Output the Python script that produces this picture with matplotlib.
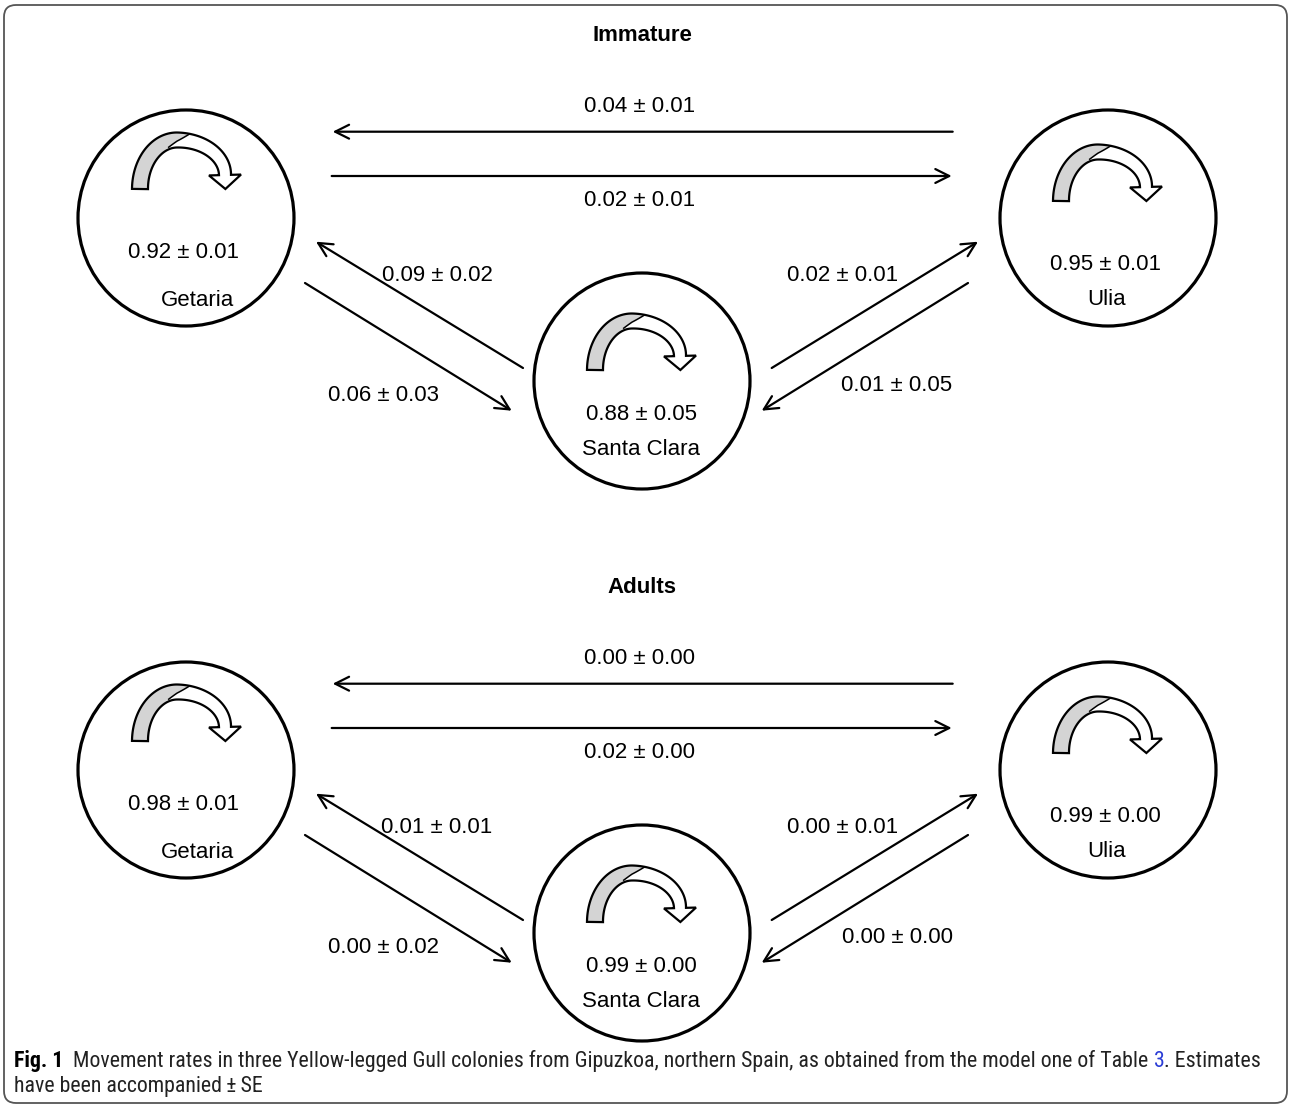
import numpy as np
import matplotlib
matplotlib.use('Agg')
import matplotlib.pyplot as plt
from matplotlib.patches import Circle, Polygon, FancyArrowPatch, FancyBboxPatch
from matplotlib import font_manager
from matplotlib.font_manager import FontProperties

# ---------------- data ----------------
panels = ['Immature', 'Adults']
colonies = ['Getaria', 'Santa Clara', 'Ulia']
# residency (stay) probabilities and SE, order = colonies
imm_stay = [0.92, 0.88, 0.95]
imm_stay_se = [0.01, 0.05, 0.01]
adu_stay = [0.98, 0.99, 0.99]
adu_stay_se = [0.01, 0.00, 0.00]
# movements: U->G, G->U, SC->G, G->SC, SC->U, U->SC
moves = [('Ulia', 'Getaria'), ('Getaria', 'Ulia'), ('Santa Clara', 'Getaria'),
         ('Getaria', 'Santa Clara'), ('Santa Clara', 'Ulia'), ('Ulia', 'Santa Clara')]
imm_move = [0.04, 0.02, 0.09, 0.06, 0.02, 0.01]
imm_move_se = [0.01, 0.01, 0.02, 0.03, 0.01, 0.05]
adu_move = [0.00, 0.02, 0.01, 0.00, 0.00, 0.00]
adu_move_se = [0.00, 0.00, 0.01, 0.02, 0.01, 0.00]

caption_bold = 'Fig. 1'
caption_a = ('  Movement rates in three Yellow-legged Gull colonies from Gipuzkoa, '
             'northern Spain, as obtained from the model one of Table ')
caption_link = '3'
caption_b = '. Estimates'
caption_2 = 'have been accompanied\u2009±\u2009SE'

# ---------------- layout (pixel units) ----------------
W, H = 1290, 1108
fig = plt.figure(figsize=(W / 100, H / 100), dpi=100)
ax = fig.add_axes([0, 0, 1, 1])
ax.set_xlim(0, W)
ax.set_ylim(H, 0)
ax.axis('off')

FONT = ['Liberation Sans', 'DejaVu Sans']
FS = 16
panel_dy = [0, 552]
title_y = 33
circ = {'Getaria': (186, 218), 'Santa Clara': (642, 381), 'Ulia': (1108, 218)}
R = 108
val_pos = {'Getaria': (183, 250), 'Santa Clara': (641, 412), 'Ulia': (1105, 262)}
name_pos = {'Getaria': (197, 298), 'Santa Clara': (641, 447), 'Ulia': (1107, 297)}
self_anchor = {'Getaria': (175, 189), 'Santa Clara': (630, 370), 'Ulia': (1096, 201)}
move_geom = [((952.7, 131.7), (332.7, 131.7), (640, 104)),
             ((331.7, 176), (951.7, 176), (640, 198)),
             ((523, 368), (316, 241.7), (437, 273)),
             ((305, 283), (511.7, 410.7), (383, 393)),
             ((771.7, 368), (978, 241.7), (843, 273)),
             ((968, 283), (761.7, 410.7), (897, 383))]
CAP = 8  # half cap height in px, to place baselines


def fmt(v, s):
    return f'{v:.2f} ± {s:.2f}'


def band_geometry(x0, by):
    pts, ws = [], []
    for th in np.linspace(np.pi, np.pi / 2, 40):
        pts.append((x0 + 37 * np.cos(th), by - 49 * np.sin(th)))
        ws.append(8 - (np.pi - th) / (np.pi / 2) * 0.5)
    for th in np.linspace(np.pi / 2, 0, 40)[1:]:
        pts.append((x0 + 48 * np.cos(th), (by - 14) - 35 * np.sin(th)))
        ws.append(7.5 - (np.pi / 2 - th) / (np.pi / 2) * 1.5)
    pts = np.array(pts)
    ws = np.array(ws)
    tang = np.gradient(pts, axis=0)
    tang /= np.linalg.norm(tang, axis=1)[:, None]
    nrm = np.column_stack([tang[:, 1], -tang[:, 0]])
    pts[:, 0] += 0  # keep
    return pts, ws, tang, nrm


def self_arrow(x0, by):
    pts, ws, tang, nrm = band_geometry(x0 + 2, by)
    outer = pts + nrm * ws[:, None]
    inner = pts - nrm * ws[:, None]
    E = pts[-1]
    t, n = tang[-1], nrm[-1]
    head = [E + 16 * n, E + 14 * t, E - 16 * n]
    poly = np.vstack([outer, head, inner[::-1]])
    base = Polygon(poly, closed=True, facecolor='white', edgecolor='none', zorder=3)
    # gray front face: left rising part, twisting away near the top
    m = 46
    frac = np.linspace(0, 1, m)
    tw = np.clip(1 - frac ** 6, 0, 1)
    g_outer = outer[:m]
    g_inner = pts[:m] + nrm[:m] * (ws[:m] * (1 - 2 * tw))[:, None]
    gray = Polygon(np.vstack([g_outer, g_inner[::-1]]), closed=True,
                   facecolor='#d4d4d4', edgecolor='none', zorder=3.1)
    k0 = int(m * 0.7)
    twist_line = plt.Line2D(g_inner[k0:, 0], g_inner[k0:, 1],
                            color='black', linewidth=1.1, zorder=3.2)
    outline = Polygon(poly, closed=True, facecolor='none', edgecolor='black',
                      linewidth=1.6, joinstyle='miter', zorder=3.3)
    return base, gray, twist_line, outline


for p, (title, dy) in enumerate(zip(panels, panel_dy)):
    stay = imm_stay if p == 0 else adu_stay
    stay_se = imm_stay_se if p == 0 else adu_stay_se
    mv = imm_move if p == 0 else adu_move
    mv_se = imm_move_se if p == 0 else adu_move_se
    ax.text(642, title_y + dy + CAP, title, ha='center', va='baseline',
            fontsize=FS, fontweight='bold', family=FONT)
    for i, c in enumerate(colonies):
        cx, cy = circ[c]
        ax.add_patch(Circle((cx, cy + dy), R, facecolor='white', edgecolor='black',
                            linewidth=2.3, zorder=2))
        b, g, tl, o = self_arrow(self_anchor[c][0], self_anchor[c][1] + dy)
        ax.add_patch(b)
        ax.add_patch(g)
        ax.add_line(tl)
        ax.add_patch(o)
        vx, vy = val_pos[c]
        ax.text(vx, vy + dy + CAP, fmt(stay[i], stay_se[i]), ha='center',
                va='baseline', fontsize=FS, family=FONT, zorder=4)
        nx, ny = name_pos[c]
        ax.text(nx, ny + dy + CAP, c, ha='center', va='baseline', fontsize=FS,
                family=FONT, zorder=4)
    for k in range(len(moves)):
        tail, tip, lab = move_geom[k]
        ax.add_patch(FancyArrowPatch((tail[0], tail[1] + dy), (tip[0], tip[1] + dy),
                                     arrowstyle='->,head_length=0.5,head_width=0.25',
                                     mutation_scale=20, linewidth=1.6, color='black',
                                     shrinkA=0, shrinkB=0, zorder=3))
        ax.text(lab[0], lab[1] + dy + CAP, fmt(mv[k], mv_se[k]), ha='center',
                va='baseline', fontsize=FS, family=FONT, zorder=4)

# border
ax.add_patch(FancyBboxPatch((4, 5), 1283, 1098,
                            boxstyle='round,pad=0,rounding_size=12',
                            facecolor='none', edgecolor='#555555', linewidth=1.3,
                            zorder=1))


# caption font: prefer a condensed face
def pick(name, stretch_ok, bold):
    for f in font_manager.fontManager.ttflist:
        if f.name != name or f.style != 'normal':
            continue
        st = f.stretch if isinstance(f.stretch, str) else str(f.stretch)
        if stretch_ok is not None and st not in stretch_ok and f.stretch not in stretch_ok:
            continue
        w = f.weight if isinstance(f.weight, int) else {'normal': 400, 'regular': 400,
                                                         'bold': 700}.get(str(f.weight), 400)
        if bold and w >= 600:
            return f.fname
        if not bold and 350 <= w <= 450:
            return f.fname
    return None


cond = ['condensed', 'semi-condensed', 75, 87.5, 'semicondensed']
prefs = [('Roboto Condensed', None), ('Open Sans Condensed', None),
         ('Liberation Sans Narrow', None), ('Noto Sans', cond), ('Open Sans', cond),
         ('DejaVu Sans', cond)]
reg_fp, bold_fp = None, None
for nm, st in prefs:
    r_ = pick(nm, st, False)
    if r_:
        reg_fp = FontProperties(fname=r_)
        b_ = pick(nm, st, True)
        bold_fp = FontProperties(fname=b_) if b_ else FontProperties(fname=r_, weight='bold')
        break
if reg_fp is None:
    reg_fp = FontProperties(family='DejaVu Sans', stretch='condensed')
    bold_fp = FontProperties(family='DejaVu Sans', stretch='condensed', weight='bold')

cfs = 13
t0 = ax.text(14, 1061 + 6, caption_bold, ha='left', va='baseline',
             fontproperties=bold_fp, color='black')
t1 = ax.annotate(caption_a, xy=(1, 0), xycoords=t0, ha='left', va='bottom',
                 fontproperties=reg_fp, color='#222222')
t2 = ax.annotate(caption_link, xy=(1, 0), xycoords=t1, ha='left', va='bottom',
                 fontproperties=reg_fp, color='#2b3dd6')
t3 = ax.annotate(caption_b, xy=(1, 0), xycoords=t2, ha='left', va='bottom',
                 fontproperties=reg_fp, color='#222222')
t4 = ax.text(14, 1086 + 6, caption_2, ha='left', va='baseline',
             fontproperties=reg_fp, color='#222222')
for t in (t0, t1, t2, t3, t4):
    t.set_fontsize(cfs)

fig.canvas.draw()
r = fig.canvas.get_renderer()
x0 = t0.get_window_extent(r).x0
x1 = t3.get_window_extent(r).x1
scale = (1262 - 14) / (x1 - x0)
for t in (t0, t1, t2, t3, t4):
    t.set_fontsize(cfs * scale)

fig.savefig('out.png', dpi=100, facecolor='white')
